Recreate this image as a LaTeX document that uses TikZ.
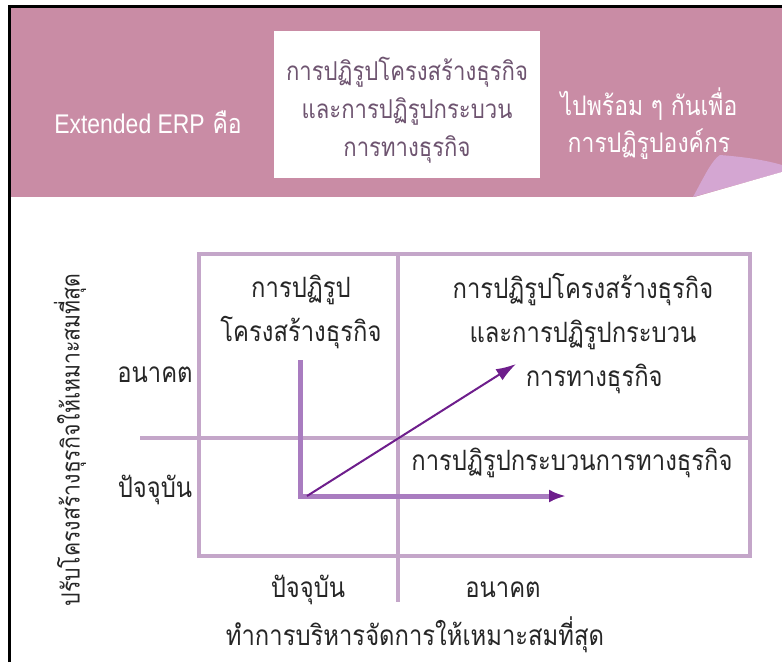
\documentclass[tikz,border=0pt]{standalone}
\usepackage{fontspec}
\setmainfont{Liberation Sans}
\newfontfamily\thaifont[Script=Thai,FakeStretch=0.85]{Loma}
\newfontfamily\latinfont[FakeStretch=0.85]{Liberation Sans}
\usepackage{tikz}
\usetikzlibrary{arrows.meta}
\definecolor{hdrpink}{HTML}{C98CA5}
\definecolor{curlpink}{HTML}{D4A6D2}
\definecolor{gridpurple}{HTML}{C4A6C9}
\definecolor{linepurple}{HTML}{A97CC0}
\definecolor{darkpurple}{HTML}{6E1E8C}
\definecolor{boxtext}{HTML}{6E5470}

\begin{document}
\begin{tikzpicture}[
x=1pt, y=-1pt,
hdr/.style={text=white, align=center, font=\thaifont\fontsize{27}{37}\selectfont},
boxlbl/.style={text=boxtext, align=center, font=\thaifont\fontsize{26}{38}\selectfont},
lbl/.style={text=black!85, align=center, font=\thaifont\fontsize{28}{44}\selectfont},
axislbl/.style={text=black!85, font=\thaifont\fontsize{28}{30}\selectfont},
sidelbl/.style={text=black!85, font=\thaifont\fontsize{25}{28}\selectfont},
gridline/.style={draw=gridpurple, line width=4pt},
thick arrow/.style={draw=linepurple, line width=5pt},
thin arrow/.style={draw=darkpurple, line width=2pt}
]
\useasboundingbox (0,0) rectangle (782,662);
\fill[white] (0,0) rectangle (782,662);

% header band
\fill[hdrpink] (10,7) rectangle (782,197);
\fill[curlpink] (693,197) .. controls (705,175) and (712,160) .. (720,155)
  .. controls (745,157) and (765,160) .. (782,165) -- (782,172) -- cycle;
\fill[white] (693,197.5) -- (782,172) -- (782,198) -- cycle;
\fill[white] (274,31) rectangle (540,178);

\node[hdr] (n1) at (148,122) {{\latinfont Extended ERP} คือ};
\node[boxlbl] (n2) at (407,110) {การปฏิรูปโครงสร้างธุรกิจ\\และการปฏิรูปกระบวน\\การทางธุรกิจ};
\node[hdr] (n3) at (649,124) {ไปพร้อม ๆ กันเพื่อ\\การปฏิรูปองค์กร};

% grid
\draw[gridline] (199,254) rectangle (750,556);
\draw[gridline] (140,438) -- (750,438);
\draw[gridline] (398,254) -- (398,602);

\node[lbl] (n4) at (301,312) {การปฏิรูป\\โครงสร้างธุรกิจ};
\node[lbl] (n5) at (583,334) {การปฏิรูปโครงสร้างธุรกิจ\\และการปฏิรูปกระบวน\\\hspace*{0.8em}การทางธุรกิจ};
\node[lbl] (n6) at (572,463) {การปฏิรูปกระบวนการทางธุรกิจ};

\node[axislbl] (n7) at (155,375) {อนาคต};
\node[axislbl, below of=n7, node distance=115pt] (n8) {ปัจจุบัน};
\node[axislbl] (n9) at (308,590) {ปัจจุบัน};
\node[axislbl, right of=n9, node distance=195pt] (n10) {อนาคต};
\node[sidelbl, rotate=90] (n11) at (70,440) {ปรับโครงสร้างธุรกิจให้เหมาะสมที่สุด};
\node[lbl] (n12) at (415,635) {ทำการบริหารจัดการให้เหมาะสมที่สุด};

% arrows
\coordinate (o) at (300,496);
\coordinate (top) at (300,360);
\coordinate (h) at (566,496);
\coordinate (o2) at (307,496);
\coordinate (d) at (516,364);
\draw[thick arrow] (top) -- (300,498.5);
\draw[thick arrow, -{Latex[length=17pt,width=13pt,color=darkpurple]}] (o) -- (h);
\draw[thin arrow, -{Latex[length=20pt,width=13pt]}] (o2) -- (d);

% frame
\draw[line width=3pt] (9,662) -- (9,6) -- (782,6);
\end{tikzpicture}
\end{document}
